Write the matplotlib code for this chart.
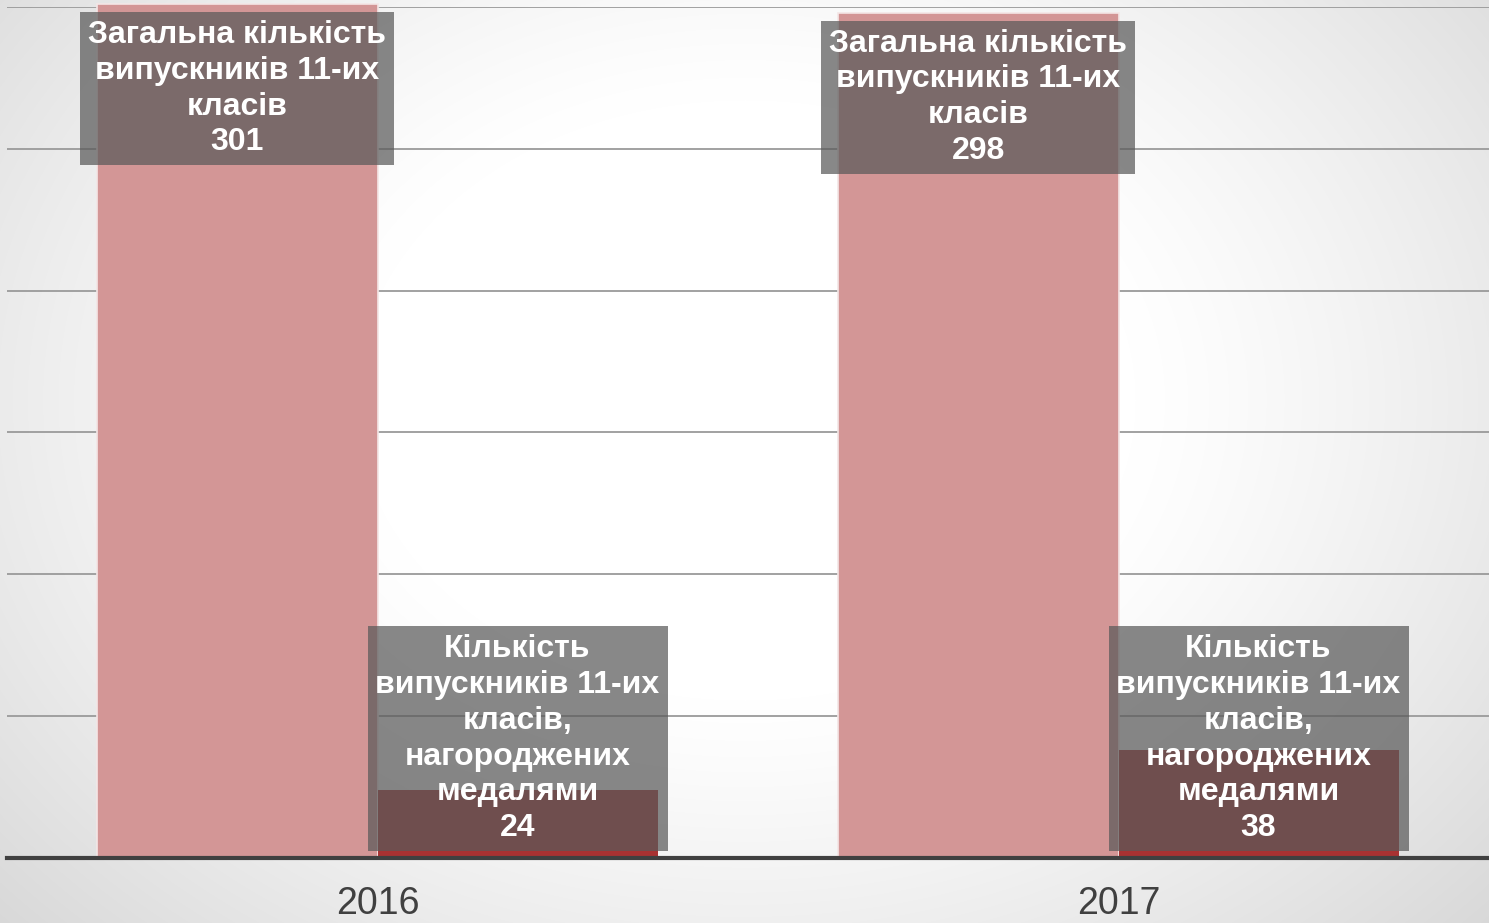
import numpy as np
import matplotlib
matplotlib.use("Agg")
import matplotlib.pyplot as plt

years = ["2016", "2017"]
total = [301, 298]
medals = [24, 38]
total_label = "Загальна кількість\nвипускників 11-их\nкласів"
medal_label = "Кількість\nвипускників 11-их\nкласів,\nнагороджених\nмедалями"

plt.rcParams['font.family'] = ['Liberation Sans', 'DejaVu Sans']

W, H = 1489, 923
fig = plt.figure(figsize=(W / 100, H / 100), dpi=100)

# radial gradient background
bg = fig.add_axes([0, 0, 1, 1], zorder=-10)
yy, xx = np.mgrid[0:H, 0:W]
cx, cy = 745, 400
r = np.sqrt(((xx - cx) / 1.3) ** 2 + (yy - cy) ** 2)
t = np.clip((r - 300) / 600, 0, 1)
val = 1.0 - 0.2 * t ** 1.2
img = np.dstack([val, val, val])
bg.imshow(img, aspect='auto', extent=[0, 1, 0, 1], origin='upper')
bg.set_axis_off()

ax = fig.add_axes([7 / W, (H - 858) / H, 1 - 7 / W, (858 - 7) / H])
ax.set_facecolor('none')
ax.set_xlim(-0.5, 1.5)
ax.set_ylim(0, 300)

x = np.arange(len(years))
w = 0.378
ax.bar(x - w / 2, total, width=w, color='#d39696', edgecolor='#f4e6e6',
       linewidth=1.2, zorder=2, clip_on=False)
ax.bar(x + w / 2, medals, width=w, color='#a83232', zorder=2, clip_on=False)

ax.set_yticks(np.arange(0, 301, 50))
ax.yaxis.grid(True, color='#9a9a9a', linewidth=1.3, zorder=1)
ax.set_axisbelow(True)
ax.tick_params(axis='y', left=False, labelleft=False)
ax.set_xticks(x)
ax.set_xticklabels(years, fontsize=27, color='#404040')
ax.tick_params(axis='x', length=0, pad=20)
for s in ['top', 'right', 'left']:
    ax.spines[s].set_visible(False)
ax.spines['bottom'].set_color('#404040')
ax.spines['bottom'].set_linewidth(3)
ax.spines['bottom'].set_zorder(5)

box = dict(boxstyle='square,pad=0.25', facecolor='#5a5a5a', alpha=0.72, edgecolor='none')
for xi, v in zip(x, total):
    ax.annotate(f"{total_label}\n{v}", xy=(xi - w / 2, v), xytext=(0, -16),
                textcoords='offset pixels', ha='center', va='top', fontsize=23,
                fontweight='bold', color='white', bbox=box, zorder=4,
                linespacing=1.25, annotation_clip=False)
for xi, v in zip(x, medals):
    ax.annotate(f"{medal_label}\n{v}", xy=(xi + w / 2, 0), xytext=(0, 15),
                textcoords='offset pixels', ha='center', va='bottom', fontsize=23,
                fontweight='bold', color='white', bbox=box, zorder=4,
                linespacing=1.25, annotation_clip=False)

fig.savefig("out.png", dpi=100)
